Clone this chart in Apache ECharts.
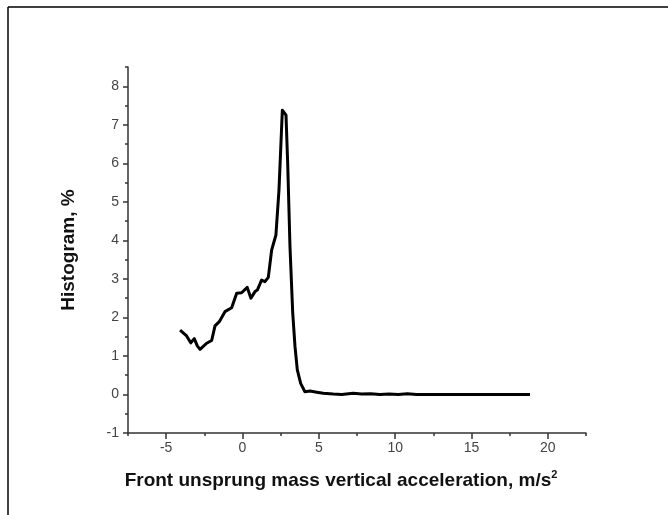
<!DOCTYPE html>
<html>
<head>
<meta charset="utf-8">
<script src="https://cdn.jsdelivr.net/npm/echarts@6/dist/echarts.min.js"></script>
<style>
html,body{margin:0;padding:0;background:#fff;}
#chart{width:668px;height:515px;}
</style>
</head>
<body>
<div id="chart"></div>
<script>
// Data
var accel = [-4.09,-3.66,-3.39,-3.16,-2.96,-2.78,-2.35,-2.02,-1.80,-1.52,-1.15,-0.71,-0.38,-0.06,0.31,0.55,0.82,0.97,1.25,1.47,1.69,1.91,2.19,2.39,2.61,2.85,2.96,3.11,3.29,3.44,3.59,3.81,4.09,4.42,4.86,5.29,5.95,6.5,7.25,7.8,8.4,9.0,9.6,10.2,10.8,11.4,12.0,13.0,14.0,15.0,16.0,17.0,18.0,18.83];
var histogram = [1.67,1.52,1.34,1.45,1.26,1.17,1.33,1.40,1.78,1.89,2.15,2.25,2.63,2.64,2.78,2.50,2.67,2.71,2.97,2.93,3.04,3.75,4.14,5.31,7.38,7.25,6.0,3.84,2.11,1.24,0.64,0.29,0.07,0.09,0.06,0.03,0.01,0.0,0.03,0.01,0.02,0.0,0.01,0.0,0.02,0.0,0.0,0.0,0.0,0.0,0.0,0.0,0.0,0.0];
var xMajorTicks = [-5,0,5,10,15,20];
var xMinorTicks = [-7.5,-2.5,2.5,7.5,12.5,17.5,22.5];
var yMajorTicks = [-1,0,1,2,3,4,5,6,7,8];
var yMinorTicks = [-0.5,0.5,1.5,2.5,3.5,4.5,5.5,6.5,7.5,8.5];
var xName = 'Front unsprung mass vertical acceleration, m/s';
var xNameSup = '2';
var yName = 'Histogram, %';

var seriesData = accel.map(function(v,i){return [v, histogram[i]];});
var axisColor = '#333';
var font = 'Liberation Sans, Arial, sans-serif';

var chart = echarts.init(document.getElementById('chart'), null, {renderer:'canvas'});
chart.setOption({
  animation:false,
  backgroundColor:'#fff',
  grid:{left:128,right:82,top:67,bottom:82,containLabel:false},
  xAxis:[{
    type:'value', min:-7.5, max:22.5, position:'bottom',
    axisLine:{show:true,onZero:false,lineStyle:{color:axisColor,width:1.5}},
    axisTick:{show:true,inside:false,length:6,customValues:xMajorTicks,lineStyle:{color:axisColor,width:1.5}},
    axisLabel:{customValues:xMajorTicks,margin:8,color:'#444',fontSize:14,fontFamily:font},
    splitLine:{show:false},
    name:'{a|'+xName+'}{s|'+xNameSup+'}', nameLocation:'middle', nameGap:36,
    nameTextStyle:{
      rich:{
        a:{fontSize:19,fontWeight:'bold',color:'#111',fontFamily:font},
        s:{fontSize:11,fontWeight:'bold',color:'#111',fontFamily:font,verticalAlign:'top',padding:[0,0,12,0]}
      },
      padding:[0,32,0,0]
    }
  },{
    type:'value', min:-7.5, max:22.5, position:'bottom',
    axisLine:{show:false,onZero:false},
    axisTick:{show:true,length:3,customValues:xMinorTicks,lineStyle:{color:axisColor,width:1.5}},
    axisLabel:{show:false},
    splitLine:{show:false}
  }],
  yAxis:[{
    type:'value', min:-1, max:8.5, position:'left',
    axisLine:{show:true,onZero:false,lineStyle:{color:axisColor,width:1.5}},
    axisTick:{show:true,length:5,customValues:yMajorTicks,lineStyle:{color:axisColor,width:1.5}},
    axisLabel:{customValues:yMajorTicks,margin:9,color:'#444',fontSize:14,fontFamily:font},
    splitLine:{show:false},
    name:yName, nameLocation:'middle', nameGap:50, nameRotate:90,
    nameTextStyle:{fontSize:19,fontWeight:'bold',color:'#111',fontFamily:font}
  },{
    type:'value', min:-1, max:8.5, position:'left',
    axisLine:{show:false,onZero:false},
    axisTick:{show:true,length:3,customValues:yMinorTicks,lineStyle:{color:axisColor,width:1.5}},
    axisLabel:{show:false},
    splitLine:{show:false}
  }],
  series:[{
    type:'line',
    xAxisIndex:0,yAxisIndex:0,
    data:seriesData,
    showSymbol:false,
    smooth:false,
    lineStyle:{color:'#000',width:3,join:'round'}
  }],
  graphic:[
    {type:'line',shape:{x1:8,y1:7,x2:668,y2:7},style:{stroke:'#000',lineWidth:1.5}},
    {type:'line',shape:{x1:8,y1:7,x2:8,y2:515},style:{stroke:'#000',lineWidth:1.5}}
  ]
});
</script>
</body>
</html>
